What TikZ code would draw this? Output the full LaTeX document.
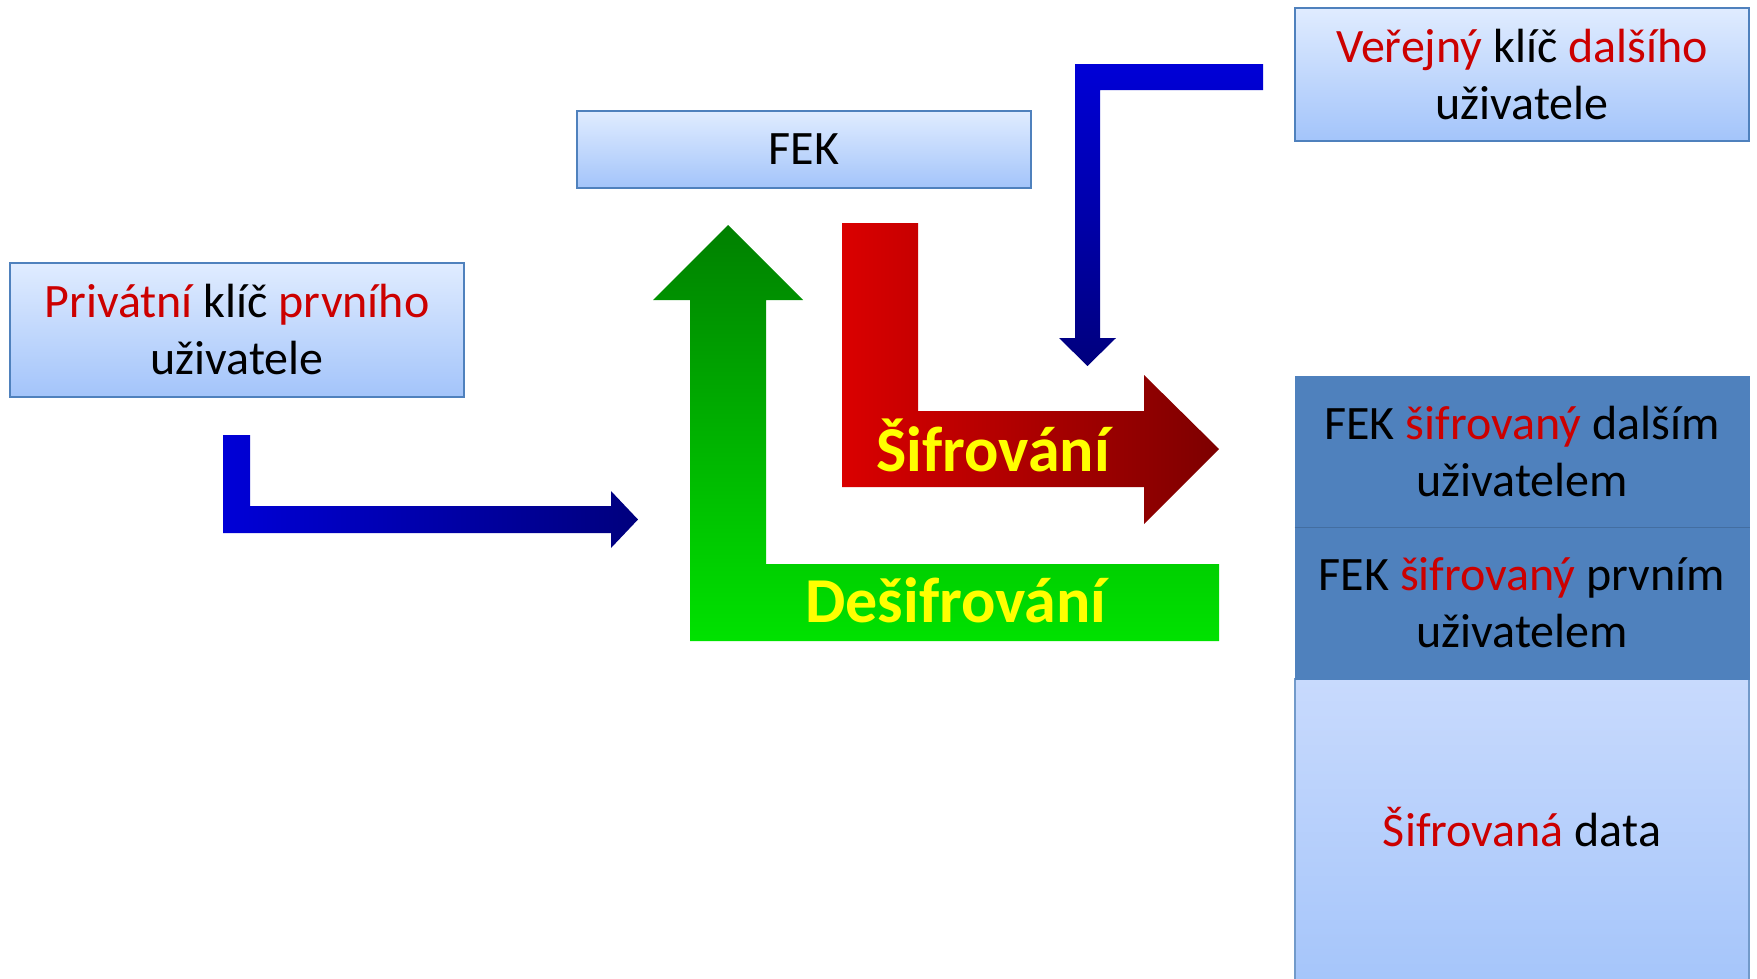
\documentclass[tikz,border=0pt]{standalone}
\usepackage{fontspec}
\setmainfont{Carlito}
\definecolor{txtred}{RGB}{204,0,0}
\definecolor{boxborder}{RGB}{79,129,189}
\definecolor{lighttop}{RGB}{224,236,255}
\definecolor{lightbot}{RGB}{163,196,250}
\definecolor{datatop}{RGB}{200,218,253}
\definecolor{databot}{RGB}{165,197,250}
\definecolor{darkfill}{RGB}{79,129,189}
\definecolor{bluea}{RGB}{0,0,215}
\definecolor{blueb}{RGB}{0,0,125}
\definecolor{reda}{RGB}{218,0,0}
\definecolor{redb}{RGB}{125,0,0}
\definecolor{greena}{RGB}{0,128,0}
\definecolor{greenb}{RGB}{0,226,0}
\definecolor{labelyellow}{RGB}{255,255,0}
\begin{document}
\begin{tikzpicture}[x=1pt,y=-1pt,
  boxtext/.style={font=\fontsize{48}{57}\selectfont, align=center, inner sep=0pt},
  lightbox/.style={boxtext, draw=boxborder, line width=2pt, top color=lighttop, bottom color=lightbot, minimum width=454pt},
  darkbox/.style={boxtext, fill=darkfill, draw=darkfill, line width=1pt, minimum width=454pt},
  databox/.style={boxtext, draw=boxborder!80!white, line width=2pt, top color=datatop, bottom color=databot, minimum width=454pt},
  labeltext/.style={font=\fontsize{64}{70}\selectfont\bfseries, text=labelyellow, inner sep=0pt}
]
\useasboundingbox (0,0) rectangle (1757,978);

% boxes
\node[lightbox, minimum height=134pt] (priv) at (237,330)
  {\textcolor{txtred}{Privátní} klíč \textcolor{txtred}{prvního}\\uživatele};
\node[lightbox, minimum height=77pt] (fek) at (804,149.5) {FEK};
\node[lightbox, minimum height=133pt] (pub) at (1522,74.5)
  {\textcolor{txtred}{Veřejný} klíč \textcolor{txtred}{dalšího}\\uživatele};

\node[databox, minimum height=306pt] (data) at (1522,832) {};
\node[boxtext] (datatext) at (1522,827) {\textcolor{txtred}{Šifrovaná} data};
\node[darkbox, minimum height=152pt] (fek2) at (1522,603)
  {FEK \textcolor{txtred}{šifrovaný} prvním\\uživatelem};
\node[darkbox, minimum height=151pt] (fek1) at (1522,451.5)
  {FEK \textcolor{txtred}{šifrovaný} dalším\\uživatelem};
\draw[boxborder!85!black, line width=0.8pt] (fek1.south west) -- (fek1.south east);

% left blue arrow (private key -> FEK decryption)
\shade[left color=bluea, right color=blueb]
  (223,435) -- (250,435) -- (250,506) -- (611,506) -- (611,491) -- (638,519.5)
  -- (611,548) -- (611,533) -- (223,533) -- cycle;

% top-right blue arrow (public key -> encryption)
\shade[top color=bluea, bottom color=blueb]
  (1263,64) -- (1075,64) -- (1075,338) -- (1059,338) -- (1087.5,366)
  -- (1116,338) -- (1100,338) -- (1100,90) -- (1263,90) -- cycle;

% green arrow (decryption)
\shade[top color=greena, bottom color=greenb]
  (690,641) -- (690,300) -- (653,300) -- (728,225) -- (803,300) -- (766,300)
  -- (766,564) -- (1219,564) -- (1219,641) -- cycle;

% red arrow (encryption)
\shade[left color=reda, right color=redb]
  (842,223) -- (918,223) -- (918,411) -- (1144,411) -- (1144,375) -- (1219,449)
  -- (1144,524) -- (1144,487) -- (842,487) -- cycle;

\node[labeltext] (enc) at (993,445) {Šifrování};
\node[labeltext] (dec) at (956,600) {Dešifrování};
\end{tikzpicture}
\end{document}
